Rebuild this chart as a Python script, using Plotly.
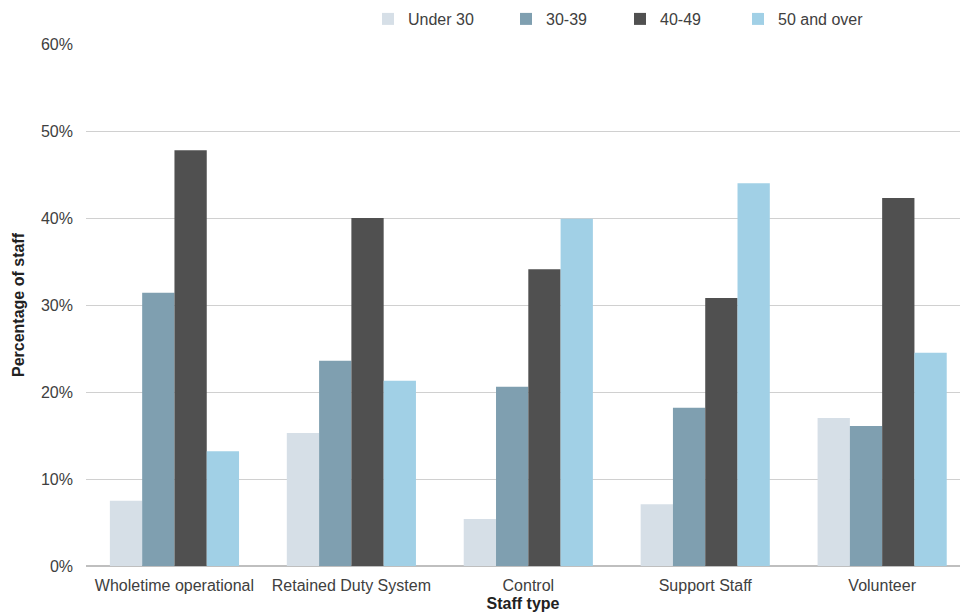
import plotly.graph_objects as go

# Staff age profile by staff type (share of staff, %)
staff_types = ["Wholetime operational", "Retained Duty System", "Control",
               "Support Staff", "Volunteer"]
age_groups = ["Under 30", "30-39", "40-49", "50 and over"]
under_30 = [7.5, 15.3, 5.4, 7.1, 17.0]
age_30_39 = [31.4, 23.6, 20.6, 18.2, 16.1]
age_40_49 = [47.8, 40.0, 34.1, 30.8, 42.3]
age_50_over = [13.2, 21.3, 39.9, 44.0, 24.5]
y_ticks = [0, 10, 20, 30, 40, 50, 60]

series = [under_30, age_30_39, age_40_49, age_50_over]
colors = ["#d6dfe7", "#7f9fb0", "#505050", "#a1d0e6"]
legend_x = [368, 506, 620, 738]
legend_names = ["legend", "legend2", "legend3", "legend4"]

FONT = "Liberation Sans, Arial, sans-serif"
TEXT = "#404040"

fig = go.Figure()
for name, vals, col, lg in zip(age_groups, series, colors, legend_names):
    fig.add_trace(go.Bar(
        x=staff_types, y=vals, name=name, marker_color=col,
        marker_line_width=0, legend=lg,
    ))

legend_common = dict(
    orientation="h", xref="container", yref="container",
    yanchor="middle", y=1 - 19 / 614, itemwidth=30,
    font=dict(family=FONT, size=16, color=TEXT),
    bgcolor="rgba(0,0,0,0)", borderwidth=0,
)
legends = {}
for lg, lx in zip(legend_names, legend_x):
    legends[lg] = dict(legend_common, x=lx / 960, xanchor="left")

fig.update_layout(
    width=960, height=614,
    margin=dict(l=86, r=0, t=44, b=48),
    paper_bgcolor="white", plot_bgcolor="white",
    barmode="group", bargap=0.27, bargroupgap=0,
    font=dict(family=FONT, size=16, color=TEXT),
    showlegend=True,
    **legends,
    xaxis=dict(
        range=[-0.5, 4.44], showgrid=False, ticks="", showline=False,
        ticklabelstandoff=8,
        tickfont=dict(family=FONT, size=16, color=TEXT),
        title=dict(text="<b>Staff type</b>", standoff=4,
                   font=dict(family=FONT, size=16, color="#222222")),
    ),
    yaxis=dict(
        range=[0, 60], tickvals=y_ticks,
        ticktext=[f"{v}%" for v in y_ticks],
        showgrid=True, gridcolor="#d0d0d0", gridwidth=1,
        zeroline=True, zerolinecolor="#bfbfbf", zerolinewidth=2,
        ticks="", showline=False, ticklabelstandoff=12,
        tickfont=dict(family=FONT, size=16, color=TEXT),
        title=dict(text="<b>Percentage of staff</b>", standoff=12,
                   font=dict(family=FONT, size=16, color="#222222")),
    ),
)

fig.write_html("out.html")
